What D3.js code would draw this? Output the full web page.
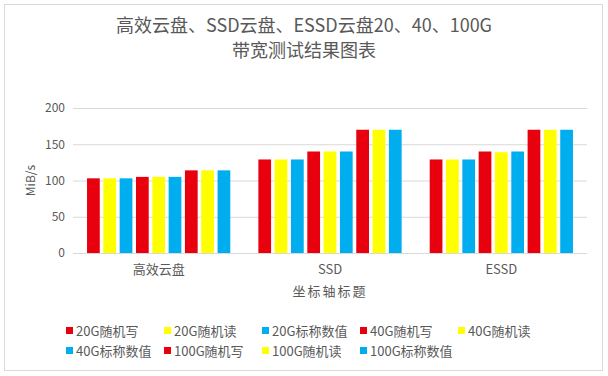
<!DOCTYPE html>
<html>
<head>
<meta charset="utf-8">
<script src="https://cdn.jsdelivr.net/npm/d3@7"></script>
<style>
  body { margin: 0; background: #fff; }
  text { font-family: "Noto Sans CJK SC", "Microsoft YaHei", sans-serif; fill: #595959; }
</style>
</head>
<body>
<div id="chart"></div>
<script>
// données
const categories = ['高效云盘', 'SSD', 'ESSD'];
const seriesNames = ['20G随机写', '20G随机读', '20G标称数值', '40G随机写', '40G随机读', '40G标称数值', '100G随机写', '100G随机读', '100G标称数值'];
const seriesColors = ['#e8000e', '#ffff00', '#00aeef', '#e8000e', '#ffff00', '#00aeef', '#e8000e', '#ffff00', '#00aeef'];
const write20 = [103, 129, 129];
const read20 = [103, 129, 129];
const nominal20 = [103, 129, 129];
const write40 = [105, 140, 140];
const read40 = [105, 140, 139];
const nominal40 = [105, 140, 140];
const write100 = [114, 170, 170];
const read100 = [114, 170, 170];
const nominal100 = [114, 170, 170];
const yTicks = [0, 50, 100, 150, 200];
const titleLines = ['高效云盘、SSD云盘、ESSD云盘20、40、100G', '带宽测试结果图表'];

const seriesValues = [write20, read20, nominal20, write40, read40, nominal40, write100, read100, nominal100];

const width = 608, height = 376;
const plot = { left: 73, right: 587, top: 108, bottom: 253 };

const svg = d3.select('#chart').append('svg')
  .attr('width', width)
  .attr('height', height);

// cadre
svg.append('rect')
  .attr('x', 4.5).attr('y', 4.5)
  .attr('width', 598).attr('height', 366)
  .attr('fill', '#fff')
  .attr('stroke', '#d9d9d9');

// titre
svg.selectAll('text.title')
  .data(titleLines)
  .join('text')
  .attr('class', 'title')
  .attr('x', width / 2)
  .attr('y', (d, i) => 32 + i * 25)
  .attr('text-anchor', 'middle')
  .style('font-size', '18px')
  .text(d => d);

const y = d3.scaleLinear().domain([0, 200]).range([plot.bottom, plot.top]);
const x0 = d3.scaleBand().domain(categories).range([plot.left, plot.right]);
const x1 = d3.scaleBand().domain(seriesNames).range([0, x0.bandwidth()])
  .paddingInner(0.22).paddingOuter(0.86);

// grille + axe Y
const yAxis = d3.axisLeft(y).tickValues(yTicks).tickSize(-(plot.right - plot.left)).tickPadding(8);
const gy = svg.append('g')
  .attr('transform', `translate(${plot.left},0)`)
  .call(yAxis);
gy.select('.domain').remove();
gy.selectAll('line').attr('stroke', '#d9d9d9');
gy.selectAll('text').style('font-size', '12px').attr('fill', '#595959');

// barres
const rows = [];
categories.forEach((c, ci) => {
  seriesNames.forEach((s, si) => {
    rows.push({ cat: c, name: s, value: seriesValues[si][ci], color: seriesColors[si] });
  });
});
svg.append('g').selectAll('rect')
  .data(rows)
  .join('rect')
  .attr('x', d => x0(d.cat) + x1(d.name))
  .attr('y', d => y(d.value))
  .attr('width', x1.bandwidth())
  .attr('height', d => y(0) - y(d.value))
  .attr('fill', d => d.color);

// axe X (libellés seulement)
const xAxis = d3.axisBottom(x0).tickSize(0).tickPadding(12);
const gx = svg.append('g')
  .attr('transform', `translate(0,${plot.bottom})`)
  .call(xAxis);
gx.select('.domain').remove();
gx.selectAll('text').style('font-size', '13px').attr('fill', '#595959');

// titres des axes
svg.append('text')
  .attr('x', (plot.left + plot.right) / 2)
  .attr('y', 296)
  .attr('text-anchor', 'middle')
  .style('font-size', '13px')
  .style('letter-spacing', '2px')
  .text('坐标轴标题');

svg.append('text')
  .attr('transform', `translate(35,${(plot.top + plot.bottom) / 2}) rotate(-90)`)
  .attr('text-anchor', 'middle')
  .style('font-size', '12px')
  .text('MiB/s');

// légende
const legend = svg.append('g').selectAll('g')
  .data(seriesNames)
  .join('g')
  .attr('transform', (d, i) => `translate(${66 + (i % 5) * 98},${331 + Math.floor(i / 5) * 20})`);
legend.append('rect')
  .attr('x', 0).attr('y', -4)
  .attr('width', 7).attr('height', 7)
  .attr('fill', (d, i) => seriesColors[i]);
legend.append('text')
  .attr('x', 10)
  .attr('y', 0)
  .attr('dy', '0.35em')
  .style('font-size', '13px')
  .text(d => d);
</script>
</body>
</html>
